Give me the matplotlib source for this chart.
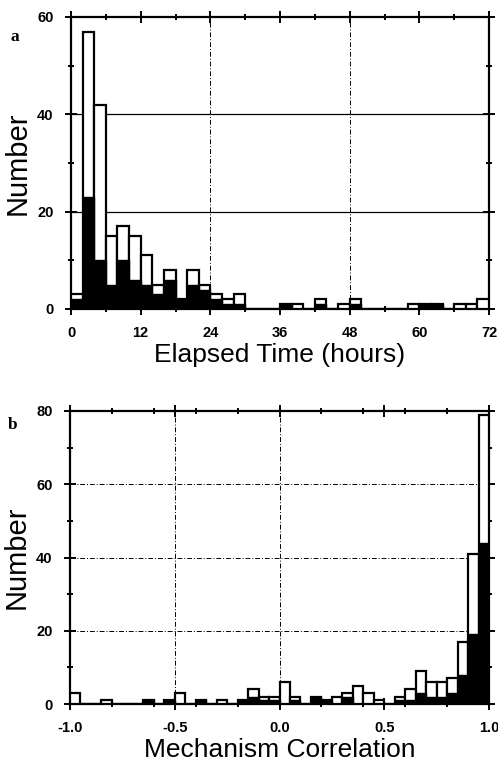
import numpy as np
import matplotlib
matplotlib.use("Agg")
import matplotlib.pyplot as plt
from matplotlib.ticker import MultipleLocator, FixedLocator

# panel a: elapsed time histogram, 2 hour bins from 0 to 72
time_all = [3, 57, 42, 15, 17, 15, 11, 5, 8, 2, 8, 5, 3, 2, 3, 0, 0, 0,
            1, 1, 0, 2, 0, 1, 2, 0, 0, 0, 0, 1, 1, 1, 0, 1, 1, 2]
time_sub = [2, 23, 10, 5, 10, 6, 5, 3, 6, 2, 5, 4, 2, 1, 1, 0, 0, 0,
            1, 0, 0, 1, 0, 0, 1, 0, 0, 0, 0, 0, 1, 1, 0, 0, 0, 0]

# panel b: mechanism correlation histogram, 0.05 bins from -1 to 1
corr_all = [3, 0, 0, 1, 0, 0, 0, 1, 0, 1, 3, 0, 1, 0, 1, 0, 1, 4, 2, 2,
            6, 2, 0, 2, 1, 2, 3, 5, 3, 1, 0, 2, 4, 9, 6, 6, 7, 17, 41, 79]
corr_sub = [0, 0, 0, 0, 0, 0, 0, 1, 0, 1, 0, 0, 1, 0, 0, 0, 1, 2, 1, 1,
            0, 1, 0, 2, 1, 0, 2, 0, 0, 0, 0, 1, 1, 3, 2, 2, 3, 8, 19, 44]

W, H = 498, 761
fig = plt.figure(figsize=(W / 100, H / 100), dpi=100)

tickfont = {'family': 'Liberation Sans', 'weight': 'bold', 'size': 10.5}
labelfont = 'Liberation Sans'
dashdot = (0, (5, 2, 1, 2))


def style_axes(ax):
    for s in ax.spines.values():
        s.set_linewidth(1.6)
    ax.tick_params(which='both', direction='inout', top=True, right=True,
                   width=1.4, pad=8)
    ax.tick_params(which='major', length=9)
    ax.tick_params(which='minor', length=5)
    for lab in ax.get_xticklabels() + ax.get_yticklabels():
        lab.set_fontproperties(matplotlib.font_manager.FontProperties(**tickfont))


def draw_hist(ax, edges, total, sub):
    w = edges[1] - edges[0]
    ax.bar(edges[:-1], total, width=w, align='edge', color='white',
           edgecolor='black', linewidth=1.6, zorder=3)
    ax.bar(edges[:-1], sub, width=w, align='edge', color='black',
           edgecolor='black', linewidth=1.0, zorder=4)


# ---- panel a
ax1 = fig.add_axes([71 / W, 1 - 309 / H, 418 / W, 292 / H])
edges_t = np.linspace(0, 72, len(time_all) + 1)
for y in [20, 40]:
    ax1.axhline(y, color='black', lw=0.9, zorder=1)
for x in [24, 48]:
    ax1.axvline(x, color='black', lw=0.7, ls=dashdot, zorder=1)
draw_hist(ax1, edges_t, time_all, time_sub)
ax1.set_xlim(0, 72)
ax1.set_ylim(0, 60)
ax1.xaxis.set_major_locator(MultipleLocator(12))
ax1.xaxis.set_minor_locator(MultipleLocator(6))
ax1.yaxis.set_major_locator(MultipleLocator(20))
ax1.yaxis.set_minor_locator(MultipleLocator(10))
style_axes(ax1)
ax1.set_xlabel('Elapsed Time (hours)', family=labelfont, fontsize=19, labelpad=2)
ax1.set_ylabel('Number', family=labelfont, fontsize=21, labelpad=4)
fig.text(15 / W, 1 - 37 / H, 'a', family='Liberation Serif', weight='bold',
         fontsize=12.5, ha='center', va='center')

# ---- panel b
ax2 = fig.add_axes([70 / W, 1 - 704 / H, 419 / W, 293 / H])
edges_c = np.linspace(-1, 1, len(corr_all) + 1)
for y in [20, 40, 60]:
    ax2.axhline(y, color='black', lw=0.7, ls=dashdot, zorder=1)
for x in [-0.5, 0.0]:
    ax2.axvline(x, color='black', lw=0.7, ls=dashdot, zorder=1)
draw_hist(ax2, edges_c, corr_all, corr_sub)
ax2.set_xlim(-1, 1)
ax2.set_ylim(0, 80)
ax2.xaxis.set_major_locator(MultipleLocator(0.5))
ax2.xaxis.set_minor_locator(FixedLocator([-0.8, -0.6, -0.4, -0.2, 0.2, 0.4, 0.6, 0.8]))
ax2.yaxis.set_major_locator(MultipleLocator(20))
ax2.yaxis.set_minor_locator(MultipleLocator(10))
ax2.xaxis.set_major_formatter(matplotlib.ticker.FormatStrFormatter('%.1f'))
style_axes(ax2)
ax2.set_xlabel('Mechanism Correlation', family=labelfont, fontsize=19, labelpad=2)
ax2.set_ylabel('Number', family=labelfont, fontsize=21, labelpad=4)
fig.text(13 / W, 1 - 425 / H, 'b', family='Liberation Serif', weight='bold',
         fontsize=12.5, ha='center', va='center')

fig.savefig('out.png', dpi=100)
